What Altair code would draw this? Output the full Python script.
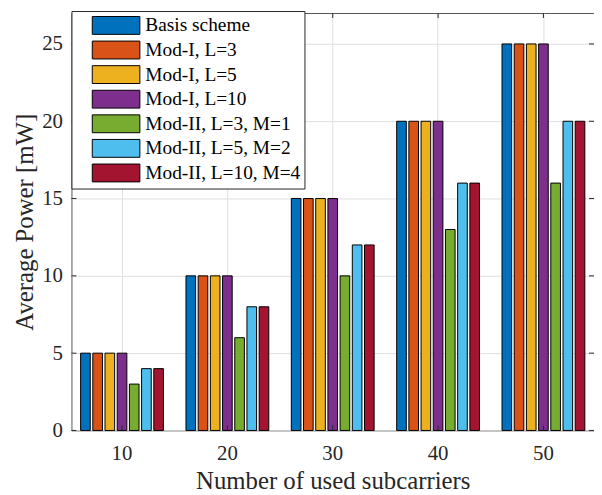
import altair as alt
import pandas as pd

groups = ["10", "20", "30", "40", "50"]
schemes = ["Basis scheme", "Mod-I, L=3", "Mod-I, L=5", "Mod-I, L=10",
           "Mod-II, L=3, M=1", "Mod-II, L=5, M=2", "Mod-II, L=10, M=4"]
basis = [5, 10, 15, 20, 25]
mod1_l3 = [5, 10, 15, 20, 25]
mod1_l5 = [5, 10, 15, 20, 25]
mod1_l10 = [5, 10, 15, 20, 25]
mod2_l3_m1 = [3, 6, 10, 13, 16]
mod2_l5_m2 = [4, 8, 12, 16, 20]
mod2_l10_m4 = [4, 8, 12, 16, 20]
colors = ["#0072BD", "#D95319", "#EDB120", "#7E2F8E", "#77AC30", "#4DBEEE", "#A2142F"]
y_ticks = [0, 5, 10, 15, 20, 25]

series = [basis, mod1_l3, mod1_l5, mod1_l10, mod2_l3_m1, mod2_l5_m2, mod2_l10_m4]
rows = []
for s, vals in zip(schemes, series):
    for g, v in zip(groups, vals):
        rows.append({"sub": g, "scheme": s, "power": v})
df = pd.DataFrame(rows)
df_y = pd.DataFrame({"t": y_ticks})
df_x = pd.DataFrame({"sub": groups})

FONT = "Liberation Serif"
W, H = 527, 421
AX = "#262626"

xscale = alt.Scale(domain=groups, paddingInner=0.214, paddingOuter=0.087)
yscale = alt.Scale(domain=[0, 27], nice=False)

# legend swatch: 48 x 18 px drawn with a symbol of nominal size 20
symbol_path = "M-2.4,-0.9H2.4V0.9H-2.4Z"

bars = alt.Chart(df).mark_bar(stroke="black", strokeWidth=1).encode(
    x=alt.X("sub:N", scale=xscale, sort=groups,
            axis=alt.Axis(title="Number of used subcarriers", grid=True, bandPosition=0.5,
                          ticks=False, tickSize=0, domain=False, labelAngle=0,
                          labelPadding=12, titlePadding=6)),
    xOffset=alt.XOffset("scheme:N", sort=schemes,
                        scale=alt.Scale(domain=schemes, paddingInner=0.21, paddingOuter=0)),
    y=alt.Y("power:Q", scale=yscale,
            axis=alt.Axis(title="Average Power [mW]", values=y_ticks, grid=True,
                          ticks=False, tickSize=0, domain=False,
                          labelPadding=9, titlePadding=4)),
    color=alt.Color("scheme:N", sort=schemes,
                    scale=alt.Scale(domain=schemes, range=colors),
                    legend=alt.Legend(title=None, orient="none", legendX=0, legendY=-2,
                                      symbolType=symbol_path, symbolSize=400,
                                      symbolStrokeColor="black", symbolStrokeWidth=1,
                                      symbolOpacity=1,
                                      labelFont=FONT, labelFontSize=19.5, labelColor="black",
                                      labelOffset=19, rowPadding=1.8,
                                      padding=4, symbolOffset=30.5,
                                      strokeColor="#262626", fillColor="white")),
)

yt_left = alt.Chart(df_y).mark_rule(color=AX, strokeWidth=1).encode(
    y=alt.Y("t:Q", scale=yscale), x=alt.value(0), x2=alt.value(5))
yt_right = alt.Chart(df_y).mark_rule(color=AX, strokeWidth=1).encode(
    y=alt.Y("t:Q", scale=yscale), x=alt.value(W - 5), x2=alt.value(W))
xt_bot = alt.Chart(df_x).mark_rule(color=AX, strokeWidth=1).encode(
    x=alt.X("sub:N", scale=xscale, sort=groups), y=alt.value(H - 5), y2=alt.value(H))
xt_top = alt.Chart(df_x).mark_rule(color=AX, strokeWidth=1).encode(
    x=alt.X("sub:N", scale=xscale, sort=groups), y=alt.value(0), y2=alt.value(5))

chart = alt.layer(bars, yt_left, yt_right, xt_bot, xt_top).properties(
    width=W, height=H,
    autosize=alt.AutoSizeParams(type="none"),
    padding={"left": 64, "top": 3, "right": 0, "bottom": 62},
).configure_view(
    stroke="#555555", strokeWidth=1
).configure_axis(
    labelFont=FONT, labelFontSize=21, labelColor=AX,
    titleFont=FONT, titleFontSize=25, titleFontWeight="normal", titleColor=AX,
    gridColor="#dfdfdf", gridWidth=1,
).configure_legend(
    labelLimit=400
)

chart.save("out.html", embed_options={"renderer": "svg", "actions": False})
